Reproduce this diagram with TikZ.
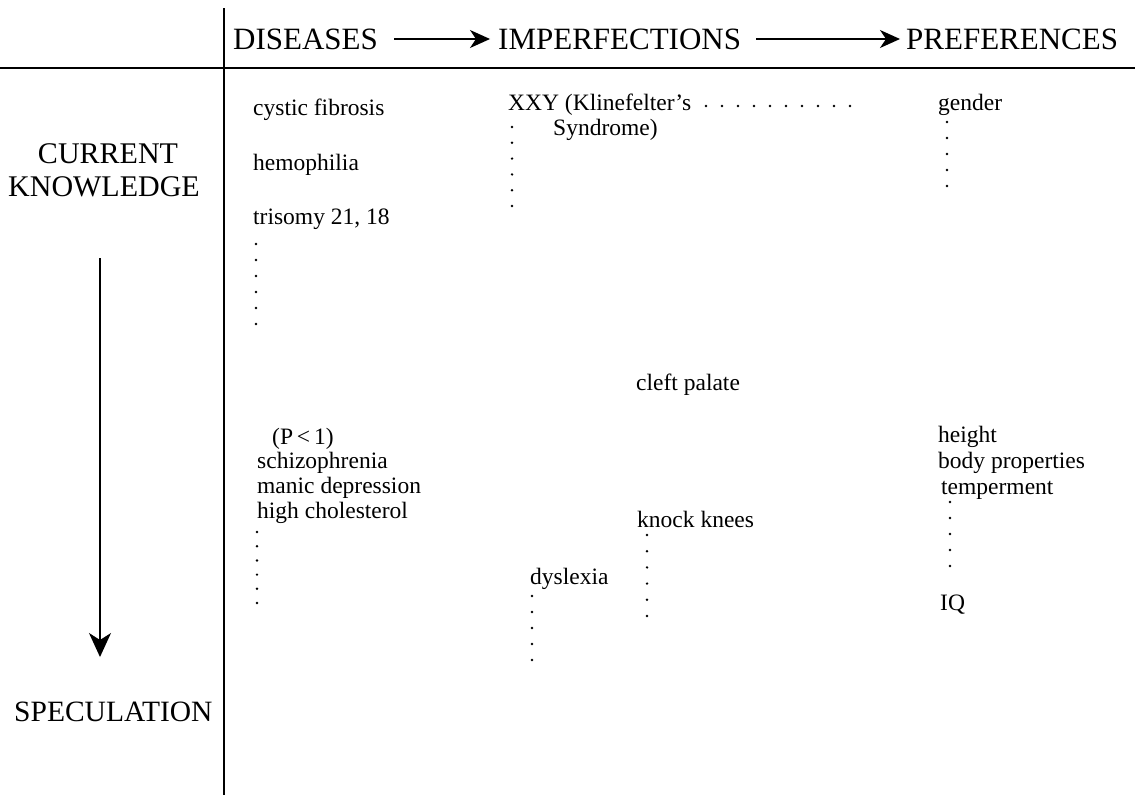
\documentclass[tikz,border=0pt]{standalone}
\usepackage{fontspec}
\setmainfont{Liberation Serif}
\usetikzlibrary{arrows.meta,calc}
\begin{document}
\begin{tikzpicture}[x=1pt,y=-1pt,
  hdr/.style={font=\fontsize{31}{36}\selectfont, anchor=base west, inner sep=0pt},
  side/.style={font=\fontsize{30}{34}\selectfont, anchor=base, inner sep=0pt},
  item/.style={font=\fontsize{23.5}{27}\selectfont, anchor=base west, inner sep=0pt},
  dotcol/.style={line width=2.7pt, line cap=round, dash pattern=on 0pt off #1},
  dotcol/.default=16pt,
  rulel/.style={line width=1.8pt},
  harr/.style={line width=1.3pt, -{Stealth[length=20pt,width=18pt,inset=6pt]}},
  varr/.style={line width=1.3pt, -{Stealth[length=24pt,width=22pt,inset=7pt]}}]
\useasboundingbox (0,0) rectangle (1135,795);
% frame
\coordinate (vt) at (224,8);
\coordinate (vbot) at (224,795);
\coordinate (hl) at (0,68);
\coordinate (hr) at (1135,68);
\draw[rulel] (vt) -- (vbot);
\draw[rulel] (hl) -- (hr);
% headers
\node[hdr] (dis) at (233,49) {DISEASES};
\node[hdr] (imp) at (498,49) {IMPERFECTIONS};
\node[hdr] (pref) at (906,49) {PREFERENCES};
\draw[harr] ($(dis.base east)+(16,-10)$) -- ($(imp.base west)+(-8,-10)$);
\draw[harr] ($(imp.base east)+(15,-10)$) -- ($(pref.base west)+(-6,-10)$);
% side labels
\node[side] (cur) at (108,163) {CURRENT};
\node[side] (know) at (104,196) {KNOWLEDGE};
\node[side, anchor=base west, font=\fontsize{29.5}{34}\selectfont] (spec) at (14,721) {SPECULATION};
\coordinate (va) at (100,258);
\coordinate (vb) at (100,657);
\draw[varr] (va) -- (vb);
% diseases
\node[item] (cf) at (253,115) {cystic fibrosis};
\node[item] (hem) at (253,170) {hemophilia};
\node[item] (tri) at (253,224) {trisomy 21, 18};
\coordinate (d1a) at (256,244);
\coordinate (d1b) at (256,325);
\draw[dotcol] (d1a) -- (d1b);
\node[item] (pl) at (272,444) {(P\,<\,1)};
\node[item] (sch) at (257,468) {schizophrenia};
\node[item] (man) at (257,493) {manic depression};
\node[item] (hch) at (257,518) {high cholesterol};
\coordinate (d2a) at (257,532);
\coordinate (d2b) at (257,603);
\draw[dotcol=14.2pt] (d2a) -- (d2b);
% imperfections
\node[item] (xxy) at (508,110) {XXY (Klinefelter's};
\node[item] (syn) at (553,135) {Syndrome)};
\coordinate (x1a) at (706,106);
\coordinate (x1b) at (850,106);
\draw[dotcol=16pt] (x1a) -- (x1b);
\coordinate (x2a) at (512,127);
\coordinate (x2b) at (512,206);
\draw[dotcol=15.8pt] (x2a) -- (x2b);
\node[item] (clp) at (636,390) {cleft palate};
\node[item] (kk) at (637,527) {knock knees};
\coordinate (k1a) at (647,535);
\coordinate (k1b) at (647,616);
\draw[dotcol=16.2pt] (k1a) -- (k1b);
\node[item] (dys) at (530,584) {dyslexia};
\coordinate (y1a) at (532,596);
\coordinate (y1b) at (532,676);
\draw[dotcol=16pt] (y1a) -- (y1b);
% preferences
\node[item] (gen) at (938,110) {gender};
\coordinate (g1a) at (947,122);
\coordinate (g1b) at (947,202);
\draw[dotcol=16pt] (g1a) -- (g1b);
\node[item] (hgt) at (938,442) {height};
\node[item] (bod) at (938,468) {body properties};
\node[item] (tmp) at (941,494) {temperment};
\coordinate (t1a) at (950,502);
\coordinate (t1b) at (950,582);
\draw[dotcol=16pt] (t1a) -- (t1b);
\node[item] (iq) at (940,610) {IQ};
\end{tikzpicture}
\end{document}
